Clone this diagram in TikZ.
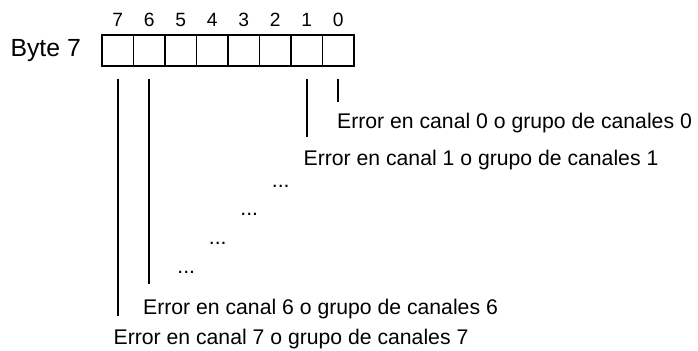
\documentclass[tikz,border=0pt]{standalone}
\usepackage{fontspec}
\setmainfont{Liberation Sans}
\usetikzlibrary{calc,positioning}
\tikzset{
  cell/.style={draw,line width=0.75pt,minimum width=15.75pt,minimum height=15.5pt,inner sep=0pt},
  ln/.style={line width=0.8pt},
  num/.style={font=\fontsize{9.6}{11}\selectfont,inner sep=0pt,anchor=base},
  txt/.style={font=\fontsize{10.6}{12}\selectfont,inner sep=0pt,anchor=north west},
  ttl/.style={font=\fontsize{12.4}{14}\selectfont,inner sep=0pt}
}

\begin{document}
\begin{tikzpicture}[x=0.5pt,y=0.5pt]
\useasboundingbox (0,0) rectangle (698,-350);
\foreach \b in {0,...,7}
  \node[cell] (c\b) at ({117.75+31.5*(7-\b)},-50.5) {};
\foreach \b in {0,...,7}
  \node[num] (n\b) at ([yshift=4pt]c\b.north) {\b};
\node[ttl,left=10pt of c7] (byte) {Byte 7};
\foreach \b/\len/\gap/\dx in {7/237/13/-4.5,6/205/15/-6.5,1/58/13/-3.5,0/23/11/-1.5}{
  \coordinate (s\b) at ([yshift=-6pt]c\b.south);
  \coordinate (e\b) at ($(s\b)+(0,-\len)$);
  \draw[ln] (s\b) -- (e\b);
  \node[txt] (t\b) at ($(e\b)+(\dx,-\gap)$) {Error en canal \b\ o grupo de canales \b};
}
\foreach \b [count=\k from 0] in {2,3,4,5}
  \node[txt,anchor=base] (d\b) at ($(c\b.center)+(5.5,{-136.5-28.67*\k})$) {...};
\end{tikzpicture}
\end{document}
